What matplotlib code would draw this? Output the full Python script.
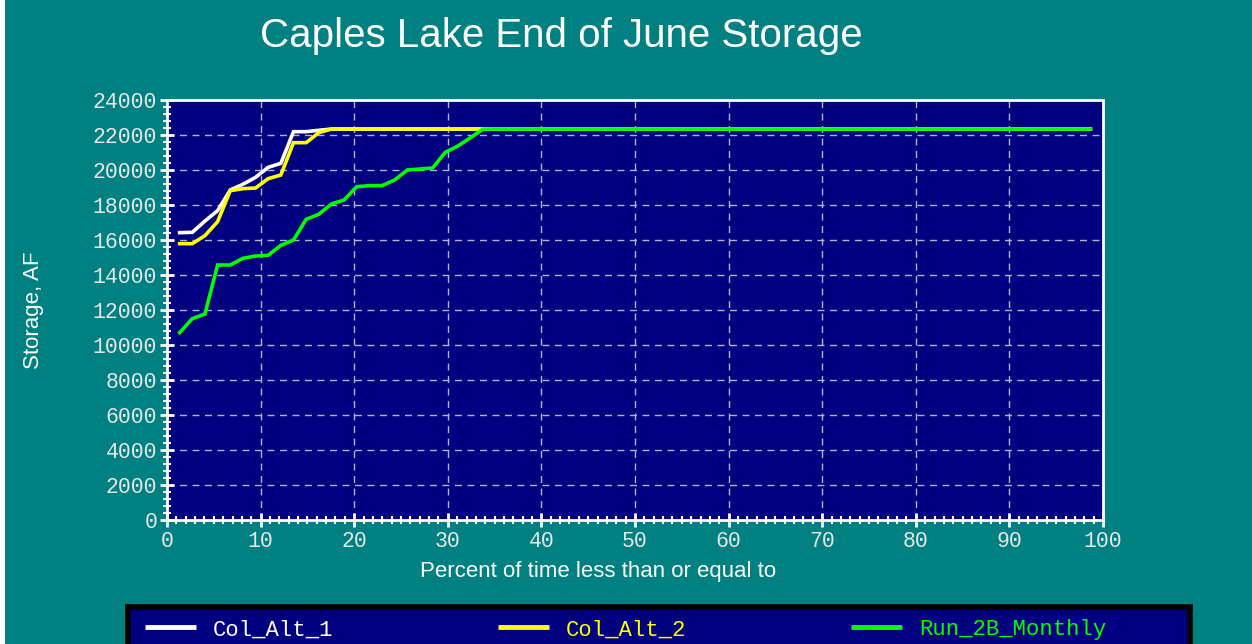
import matplotlib
matplotlib.use("Agg")
import matplotlib.pyplot as plt
import numpy as np
from matplotlib.ticker import MultipleLocator
from matplotlib.patches import Rectangle

# storage values (AF), sorted, one per year of record
cap = 22340
col_alt_1 = [16419, 16438, 17086, 17676, 18857, 19181, 19581, 20152, 20381,
             22190, 22190, 22270] + [cap] * 61
col_alt_2 = [15790, 15790, 16248, 17048, 18819, 18933, 18971, 19505, 19714,
             21562, 21562, 22133] + [cap] * 61
run_2b = [10705, 11505, 11771, 14571, 14571, 14952, 15086, 15124, 15695, 16000,
          17181, 17467, 18057, 18286, 19048, 19105, 19105, 19429, 20000, 20057,
          20114, 21010, 21371, 21848] + [cap] * 49
series_names = ["Col_Alt_1", "Col_Alt_2", "Run_2B_Monthly"]
series_colors = ["#ffffff", "#ffff00", "#00ff00"]

n = len(run_2b)
pct = np.arange(1, n + 1) / (n + 1) * 100  # percent of time <= value

teal = "#008080"
navy = "#000080"
tickcol = "#e6e6e6"
mono = "Liberation Mono"
W, H = 1252, 644

fig = plt.figure(figsize=(12.52, 6.44), dpi=100, facecolor=teal)
fig.patches.append(Rectangle((0, 0), 5 / W, 1, transform=fig.transFigure,
                             facecolor="white", edgecolor="none"))

ax = fig.add_axes([167 / W, 1 - 520 / H, (1103 - 167) / W, 420 / H])
ax.set_facecolor(navy)

for ys, name, c in zip([col_alt_1, col_alt_2, run_2b], series_names, series_colors):
    ax.plot(pct, ys, color=c, lw=2.6, label=name, solid_joinstyle="miter")

ax.set_xlim(0, 100)
ax.set_ylim(0, 24000)
ax.xaxis.set_major_locator(MultipleLocator(10))
ax.xaxis.set_minor_locator(MultipleLocator(1))
ax.yaxis.set_major_locator(MultipleLocator(2000))
ax.yaxis.set_minor_locator(MultipleLocator(400))
ax.grid(True, which="major", color="#b4b4d2", ls=(0, (5, 4)), lw=1)

for s in ax.spines.values():
    s.set_color("white")
    s.set_linewidth(2)
ax.tick_params(which="major", direction="inout", length=10, width=2, color="white",
               labelcolor=tickcol, labelsize=15.5, top=False, right=False)
ax.tick_params(which="minor", direction="inout", length=6, width=1.5, color="white",
               top=False, right=False)
for lab in ax.get_xticklabels() + ax.get_yticklabels():
    lab.set_fontfamily(mono)
ax.tick_params(axis="y", pad=2)
ax.tick_params(axis="x", pad=3)

fig.text(561 / W, 1 - 36 / H, "Caples Lake End of June Storage", color="white",
         fontsize=29, family="Liberation Sans", ha="center", va="center")
fig.text(598 / W, 1 - 571 / H, "Percent of time less than or equal to", color="white",
         fontsize=16, family="Liberation Sans", ha="center", va="center")
fig.text(33 / W, 1 - 310 / H, "Storage, AF", color="white", fontsize=16,
         family="Liberation Sans", ha="center", va="center", rotation=90)

# legend box along the bottom edge
lax = fig.add_axes([128 / W, -0.05, (1190 - 128) / W, 0.05 + 37 / H])
lax.set_facecolor(navy)
lax.set_xticks([])
lax.set_yticks([])
for s in lax.spines.values():
    s.set_color("black")
    s.set_linewidth(4)
lax.set_xlim(128, 1190)
lax.set_ylim(644 + 0.05 * H, 607)
for i, (name, c) in enumerate(zip(series_names, series_colors)):
    x0 = 145 + i * 353
    lax.plot([x0, x0 + 51], [627, 627], color=c, lw=3.5, solid_capstyle="butt")
    lax.text(x0 + 68, 630, name, color=c, fontsize=16, family=mono,
             ha="left", va="center")

fig.savefig("out.png", dpi=100, facecolor=teal)
